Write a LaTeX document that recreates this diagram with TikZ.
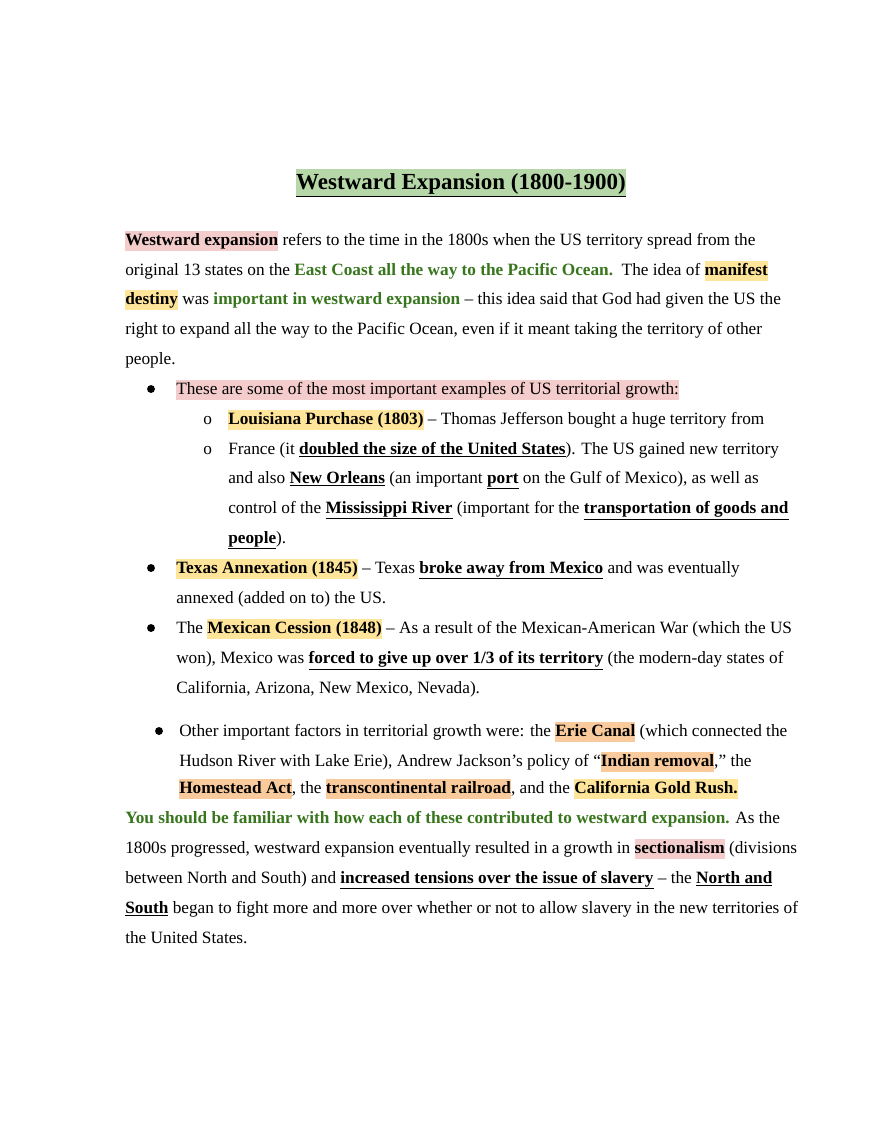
\documentclass[tikz,border=0pt]{standalone}
\usepackage{fontspec}
\setmainfont{Liberation Serif}
\definecolor{hpink}{HTML}{F4CCCC}
\definecolor{hyel}{HTML}{FFE599}
\definecolor{hora}{HTML}{F9CB9C}
\definecolor{hgrn}{HTML}{B6D7A8}
\definecolor{tgrn}{HTML}{38761D}
\newcommand{\hlc}[2]{{\setlength\fboxsep{0pt}\colorbox{#1}{\rule[-4pt]{0pt}{14pt}#2}}}
\newcommand{\hp}[1]{\hlc{hpink}{\textbf{#1}}}
\newcommand{\hpn}[1]{\hlc{hpink}{#1}}
\newcommand{\hy}[1]{\hlc{hyel}{\textbf{#1}}}
\newcommand{\ho}[1]{\hlc{hora}{\textbf{#1}}}
\newcommand{\gr}[1]{\textcolor{tgrn}{\textbf{#1}}}
\newcommand{\ub}[1]{\underline{\textbf{#1}}}
\begin{document}
\begin{tikzpicture}[x=0.6955pt,y=-0.6955pt,
  t/.style={anchor=base west,inner sep=0,font=\fontsize{12}{14}\selectfont},
  dot/.style={fill=black,circle,inner sep=0,minimum size=5.5pt}]
\path[use as bounding box,fill=white] (0,0) rectangle (880,1139);
\node[anchor=base,inner sep=0,font=\fontsize{16}{18}\selectfont\bfseries] (title) at (461,189)
 {{\setlength\fboxsep{0pt}\colorbox{hgrn}{\rule[-5pt]{0pt}{19pt}\underline{Westward Expansion (1800-1900)}}}};
\node[t] (l1) at (125,245) {\hp{Westward expansion} refers to the time in the 1800s when the US territory spread from the};
\node[t] (l2) at (125,275) {original 13 states on the \gr{East Coast all the way to the Pacific Ocean.}\ \ The idea of \hy{manifest}};
\node[t] (l3) at (125,304) {\hy{destiny} was \gr{important in westward expansion} – this idea said that God had given the US the};
\node[t] (l4) at (125,334) {right to expand all the way to the Pacific Ocean, even if it meant taking the territory of other};
\node[t] (l5) at (125,364) {people.};
\node[dot] (b1) at (151,389) {};
\node[t] (l6) at (176,394) {\hpn{These are some of the most important examples of US territorial growth:}};
\node[t] (o1) at (203,424) {o};
\node[t] (l7) at (228,424) {\hy{Louisiana Purchase (1803)} – Thomas Jefferson bought a huge territory from};
\node[t] (o2) at (203,454) {o};
\node[t] (l8) at (228,454) {France (it \ub{doubled the size of the United States}). The US gained new territory};
\node[t] (l9) at (228,483) {and also \ub{New Orleans} (an important \ub{port} on the Gulf of Mexico), as well as};
\node[t] (l10) at (228,513) {control of the \ub{Mississippi River} (important for the \ub{transportation of goods and}};
\node[t] (l11) at (228,543) {\ub{people}).};
\node[dot] (b2) at (151,568) {};
\node[t] (l12) at (176,573) {\hy{Texas Annexation (1845)} – Texas \ub{broke away from Mexico} and was eventually};
\node[t] (l13) at (176,603) {annexed (added on to) the US.};
\node[dot] (b3) at (151,628) {};
\node[t] (l14) at (176,633) {The \hy{Mexican Cession (1848)} – As a result of the Mexican-American War (which the US};
\node[t] (l15) at (176,663) {won), Mexico was \ub{forced to give up over 1/3 of its territory} (the modern-day states of};
\node[t] (l16) at (176,693) {California, Arizona, New Mexico, Nevada).};
\node[dot] (b4) at (159,731) {};
\node[t] (l17) at (179,736) {Other important factors in territorial growth were: the \ho{Erie Canal} (which connected the};
\node[t] (l18) at (179,766) {Hudson River with Lake Erie), Andrew Jackson’s policy of “\ho{Indian removal},” the};
\node[t] (l19) at (179,793) {\ho{Homestead Act}, the \ho{transcontinental railroad}, and the \hy{California Gold Rush.}};
\node[t] (l20) at (125,823) {\gr{You should be familiar with how each of these contributed to westward expansion.} As the};
\node[t] (l21) at (125,853) {1800s progressed, westward expansion eventually resulted in a growth in \hp{sectionalism} (divisions};
\node[t] (l22) at (125,883) {between North and South) and \ub{increased tensions over the issue of slavery} – the \ub{North and}};
\node[t] (l23) at (125,913) {\ub{South} began to fight more and more over whether or not to allow slavery in the new territories of};
\node[t] (l24) at (125,943) {the United States.};
\end{tikzpicture}
\end{document}
